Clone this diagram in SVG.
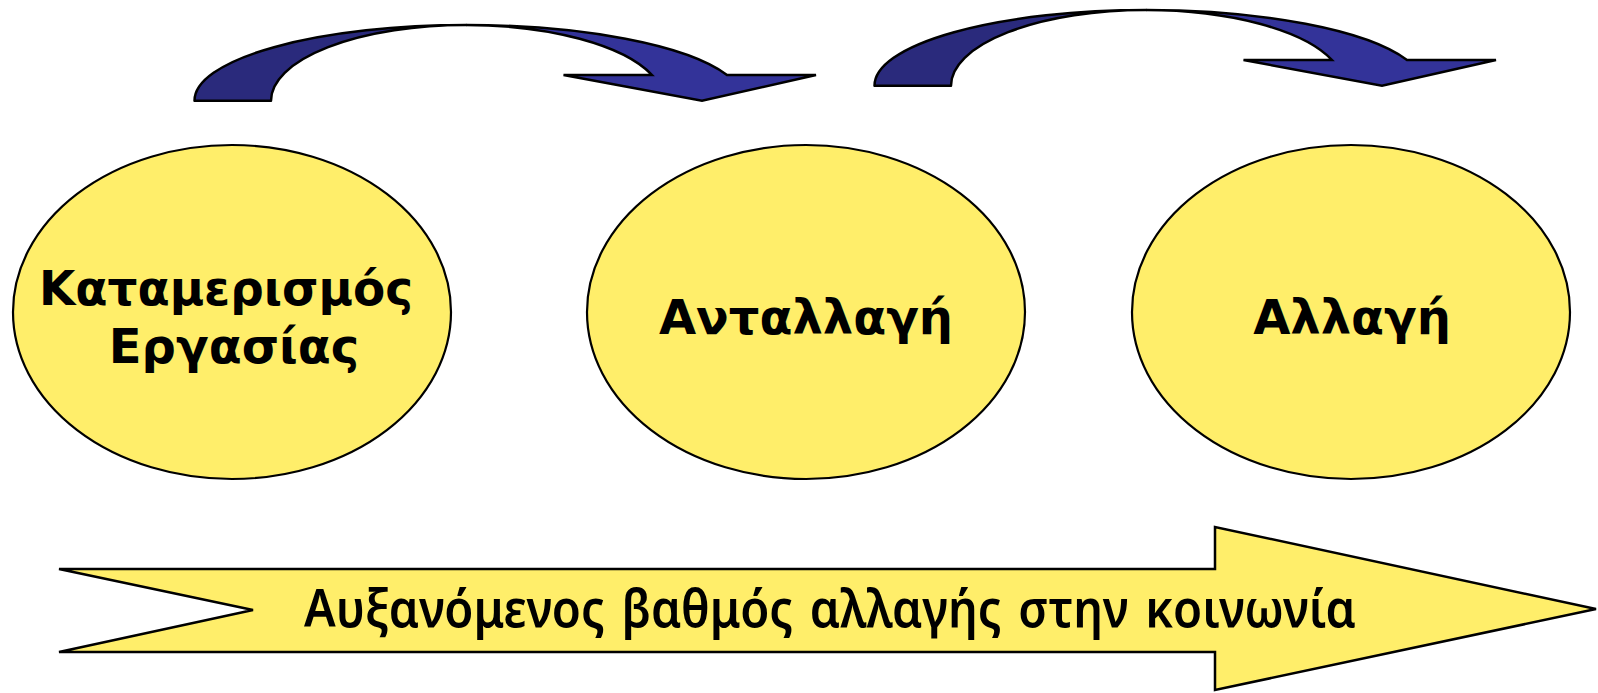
<svg xmlns="http://www.w3.org/2000/svg" xmlns:xlink="http://www.w3.org/1999/xlink" width="1598" height="693" viewBox="0 0 1598 693">
  <style>
    .node { fill: #ffee6a; stroke: #000; stroke-width: 2.2; }
    .label { font-family: Verdana, "DejaVu Sans", sans-serif; font-weight: bold; font-size: 48px; fill: #000; text-anchor: middle; }
    .band-back { fill: #2a2a7c; stroke: #000; stroke-width: 2.5; stroke-linejoin: round; }
    .band-front { fill: #333399; stroke: #000; stroke-width: 2.5; stroke-linejoin: miter; }
    .trend { fill: #ffee6a; stroke: #000; stroke-width: 2.5; stroke-linejoin: miter; }
    .trend-label { font-family: "Comic Sans MS", "Comic Neue", "Noto Sans", sans-serif; font-weight: 600; font-size: 52px; fill: #000; }
  </style>
  <defs>
    <!-- curved arrow that hops from one stage to the next -->
    <g id="hop">
      <path class="band-back" d="M194.5,100.7 A271.5,75.7 0 0 1 466,25 A195,75.7 0 0 0 271,100.7 Z"/>
      <path class="band-front" d="M466,25 A278,75.7 0 0 1 727,75 L816,75 L702,100.7 L563.5,75 L652,75 A198,75.7 0 0 0 466,25 Z"/>
    </g>
  </defs>

  <!-- rising-change arrow along the bottom -->
  <g id="trend">
    <polygon class="trend" points="59,569 1215,569 1215,527 1596,609 1215,690 1215,652 59,652 253,610"/>
    <text class="trend-label" x="304" y="627" textLength="1052" lengthAdjust="spacingAndGlyphs">Αυξανόμενος βαθμός αλλαγής στην κοινωνία</text>
  </g>

  <g id="node-division">
    <ellipse class="node" cx="232" cy="312" rx="219" ry="167"/>
    <text class="label" x="226" y="305" textLength="374" lengthAdjust="spacingAndGlyphs">Καταμερισμός</text>
    <text class="label" x="234" y="363">Εργασίας</text>
  </g>

  <g id="node-exchange">
    <ellipse class="node" cx="806" cy="312" rx="219" ry="167"/>
    <text class="label" x="806" y="334">Ανταλλαγή</text>
  </g>

  <g id="node-change">
    <ellipse class="node" cx="1351" cy="312" rx="219" ry="167"/>
    <text class="label" x="1352" y="334">Αλλαγή</text>
  </g>

  <g id="connectors">
    <use xlink:href="#hop"/>
    <use xlink:href="#hop" transform="translate(680,-15)"/>
  </g>
</svg>
